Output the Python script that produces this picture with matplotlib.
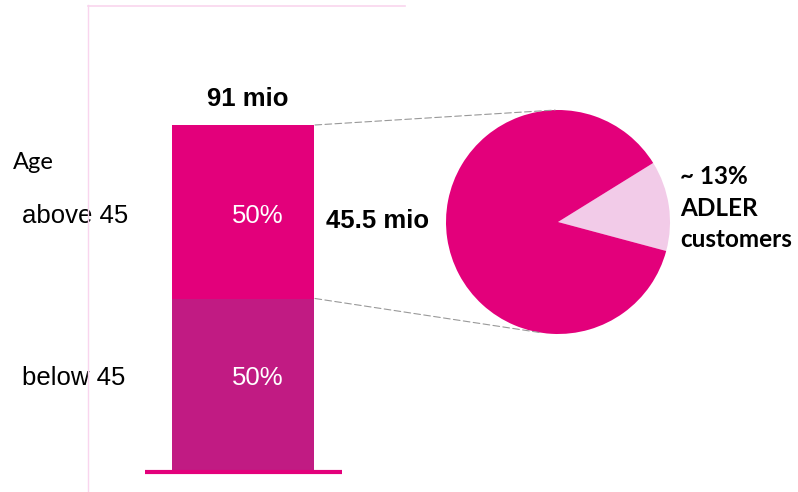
import matplotlib
matplotlib.use("Agg")
import matplotlib.pyplot as plt
from matplotlib.patches import ConnectionPatch
import numpy as np

# data
segments = ["below 45", "above 45"]
shares = [50, 50]
share_labels = ["50%", "50%"]
total_label = "91 mio"
sub_label = "45.5 mio"
pie_labels = ["ADLER customers", "others"]
pie_values = [13, 87]
pie_text = "~ 13%\nADLER\ncustomers"

W, H = 798, 492
fig = plt.figure(figsize=(W / 100, H / 100), dpi=100)
fig.patch.set_facecolor("white")

MAG = "#E3007B"
PURP = "#C11B83"
LIGHT = "#F2CBE8"
FAINT = "#F9D5EE"

# decorative faint frame lines (figure coords)
fig.add_artist(plt.Line2D([88 / W, 88 / W], [0, 1 - 5 / H], color=FAINT, lw=1))
fig.add_artist(plt.Line2D([88 / W, 405 / W], [1 - 6 / H, 1 - 6 / H], color=FAINT, lw=1.2))

# bar axes: x in pixels, y in percent; 0 -> y=472px, 100 -> y=125px
y0, y1 = 472, 125
ax = fig.add_axes([0, 1 - y0 / H, 1, (y0 - y1) / H])
ax.set_xlim(0, W)
ax.set_ylim(0, 100)
ax.axis("off")

bx, bw = 243, 142
colors = [PURP, MAG]
label_offsets = [2.1, -1.2]   # small text offsets (percent units) as in the source
bottom = 0
for seg, v, lab, c, off in zip(segments, shares, share_labels, colors, label_offsets):
    ax.bar(bx, v, width=bw, bottom=bottom, color=c, edgecolor="none")
    mid = bottom + v / 2 + off
    ax.text(bx + 15, mid, lab, color="white", fontsize=18.5, ha="center", va="center",
            family="Liberation Sans")
    ax.text(22, mid, seg, color="black", fontsize=18.5, ha="left", va="center",
            family="Liberation Sans")
    bottom += v
ax.plot([145, 342], [0, 0], color=MAG, lw=3, solid_capstyle="butt", clip_on=False)
ax.text(bx + 5, sum(shares) + 7.5, total_label, fontsize=18.5, fontweight="bold",
        ha="center", va="center", family="Liberation Sans")
ax.text(13, 89.3, "Age", fontsize=17, ha="left", va="center", family="Lato")
ax.text(378, 72.3, sub_label, fontsize=18.5, fontweight="bold",
        ha="center", va="center", family="Liberation Sans")

# pie axes
cx, cy, r = 558, 222, 112
pax = fig.add_axes([(cx - r) / W, 1 - (cy + r) / H, 2 * r / W, 2 * r / H])
wedges, _ = pax.pie(pie_values, colors=[LIGHT, MAG], startangle=-15,
                    counterclock=True, radius=1, wedgeprops=dict(edgecolor="none"))
pax.set_xlim(-1, 1)
pax.set_ylim(-1, 1)
pax.set_aspect("equal")
pax.axis("off")

fig.text(680 / W, 1 - 208 / H, pie_text, fontsize=17.5, fontweight="bold", family="Lato",
         ha="left", va="center", linespacing=1.45)

# connectors
top_ang = np.deg2rad(91.5)
bot_ang = np.deg2rad(261)
for (yb, ang) in [(100, top_ang), (50, bot_ang)]:
    con = ConnectionPatch(xyA=(bx + bw / 2 + 1, yb), coordsA=ax.transData,
                          xyB=(np.cos(ang), np.sin(ang)), coordsB=pax.transData,
                          color="#999999", lw=0.8, linestyle=(0, (6, 3)))
    fig.add_artist(con)

fig.savefig("out.png", dpi=100, facecolor="white")
